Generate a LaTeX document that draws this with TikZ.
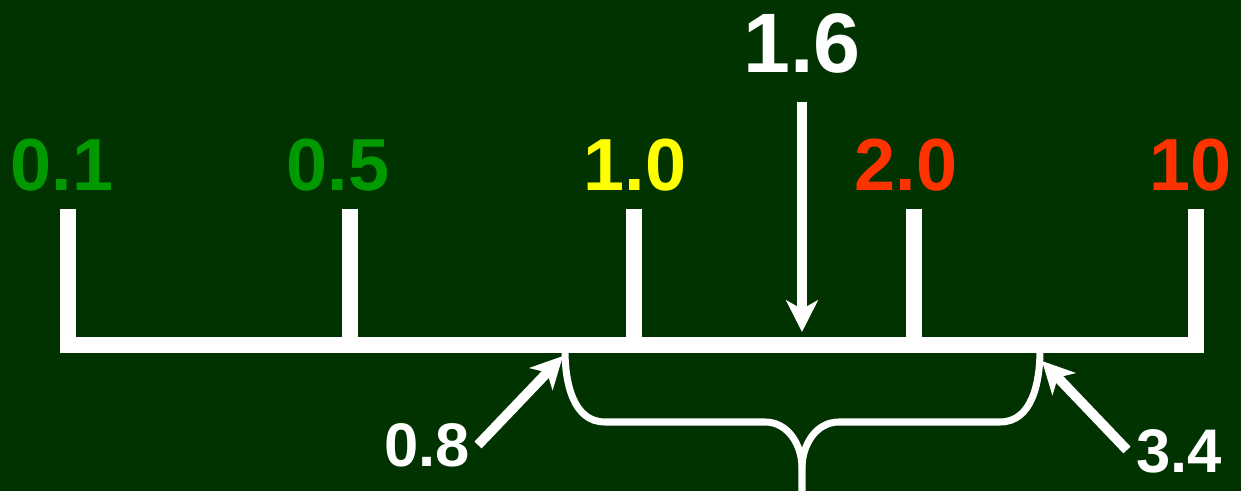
\documentclass[tikz,border=0pt]{standalone}
\usepackage{fontspec}
\setmainfont{Liberation Sans}
\usetikzlibrary{arrows.meta}
\usetikzlibrary{calc}
\usetikzlibrary{positioning}
\definecolor{board}{HTML}{003300}
\definecolor{lowgreen}{HTML}{009900}
\definecolor{midyellow}{HTML}{FFFF00}
\definecolor{highred}{HTML}{FF3300}
\tikzstyle{point} = [coordinate]
\tikzstyle{scalenum} = [inner sep=0pt, anchor=base, font=\bfseries\fontsize{21pt}{21pt}\selectfont]
\tikzstyle{bignum} = [inner sep=0pt, anchor=base, text=white, font=\bfseries\fontsize{24pt}{24pt}\selectfont]
\tikzstyle{endnum} = [inner sep=0pt, anchor=base, text=white, font=\bfseries\fontsize{17.5pt}{17.5pt}\selectfont]
\tikzstyle{scaleline} = [draw=white, line width=4.5pt]
\tikzstyle{pointer} = [draw=white, line width=2.8pt, -{Stealth[length=9pt,width=9pt,inset=2.5pt]}]
\tikzstyle{brace} = [draw=white, line width=2pt]

\begin{document}
\begin{tikzpicture}[x=0.01cm, y=-0.01cm]
  \fill [board] (0,0) rectangle (1241,491);
  \useasboundingbox (0,0) rectangle (1241,491);
  % ticks and bar
  \node [point, name=t1] at (68,209) {};
  \node [point, name=t2] at (350,209) {};
  \node [point, name=t3] at (634,209) {};
  \node [point, name=t4] at (914,209) {};
  \node [point, name=t5] at (1196,209) {};
  \node [point, name=b1] at (68,345) {};
  \node [point, name=b2] at (350,345) {};
  \node [point, name=b3] at (634,345) {};
  \node [point, name=b4] at (914,345) {};
  \node [point, name=b5] at (1196,345) {};
  \draw [scaleline] (t1) -- (b1) -- (b5) -- (t5);
  \draw [scaleline] (t2) -- (b2);
  \draw [scaleline] (t3) -- (b3);
  \draw [scaleline] (t4) -- (b4);
  % scale values
  \node [scalenum, text=lowgreen, name=n1] at (62,191) {0.1};
  \node [scalenum, text=lowgreen, name=n2] at (338,191) {0.5};
  \node [scalenum, text=midyellow, name=n3] at (635,191) {1.0};
  \node [scalenum, text=highred, name=n4] at (906,191) {2.0};
  \node [scalenum, text=highred, name=n5] at (1191,191) {10};
  % point estimate
  \node [bignum, name=mark] at (802,73) {1.6};
  \node [point, name=markstart] at (802,102) {};
  \node [point, name=markend] at (802,332) {};
  \draw [pointer] (markstart) -- (markend);
  % interval
  \node [point, name=braceL] at (565,350) {};
  \node [point, name=braceR] at (1040,350) {};
  \node [point, name=bracetip] at (802,491) {};
  \draw [brace] (braceL) to[out=-90,in=180] (605,422) -- (765,422)
    to[out=0,in=90] (802,468) -- (bracetip);
  \draw [brace] (braceR) to[out=-90,in=0] (1000,422) -- (839,422)
    to[out=180,in=90] (802,468);
  \node [endnum, name=low] at (427,467) {0.8};
  \node [endnum, name=high] at (1179,473) {3.4};
  \node [point, name=lowtail] at (478,445) {};
  \node [point, name=lowtip] at (563,356) {};
  \node [point, name=hightail] at (1127,450) {};
  \node [point, name=hightip] at (1042,361) {};
  \draw [pointer] (lowtail) -- (lowtip);
  \draw [pointer] (hightail) -- (hightip);
\end{tikzpicture}
\end{document}
